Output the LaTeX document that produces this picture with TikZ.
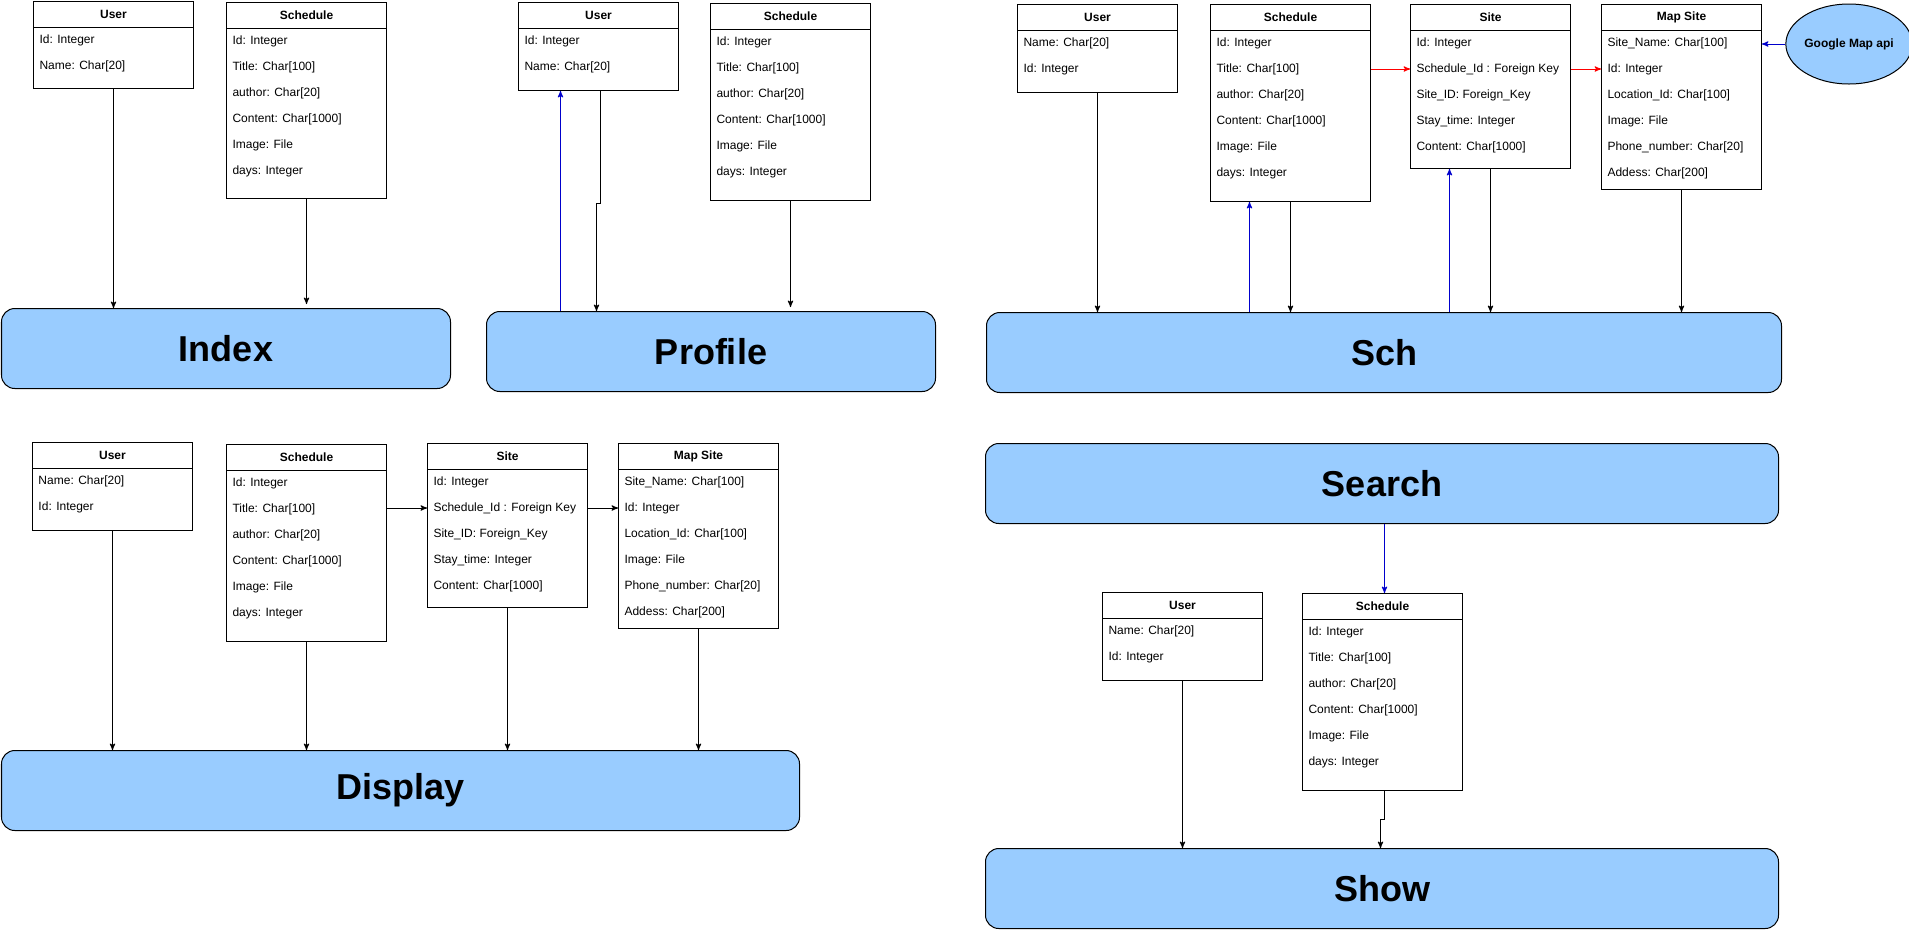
\documentclass[tikz,border=0pt]{standalone}
\usepackage{fontspec}
\setmainfont{Liberation Sans}
\usetikzlibrary{calc}
\usetikzlibrary{arrows}
\usetikzlibrary{shapes.geometric}
\definecolor{pageblue}{HTML}{99CCFF}
\definecolor{linkblue}{HTML}{0000CC}
\tikzset{
 classbox/.style={draw, fill=white, anchor=north west, minimum width=120pt, inner sep=0pt},
 classtitle/.style={font=\fontsize{9}{11}\selectfont\bfseries, inner sep=0pt},
 attr/.style={font=\fontsize{9}{11}\selectfont, anchor=west, inner sep=0pt},
 pagebox/.style={draw, fill=pageblue, rounded corners=10pt, anchor=north west, minimum height=60pt, inner sep=0pt, font=\fontsize{27}{32}\selectfont\bfseries},
 apinode/.style={draw, ellipse, fill=pageblue, minimum width=88.5pt, minimum height=60pt, inner sep=0pt, font=\fontsize{9}{11}\selectfont\bfseries},
 link/.style={black, ->, >=stealth'},
 backlink/.style={linkblue, ->, >=stealth'},
 fklink/.style={red, ->, >=stealth'},
}
\newcommand{\umlclass}[5]{
 \node[classbox, minimum height=#3*0.75pt] (#1) at (#2) {};
 \draw ([yshift=-19.5pt]#1.north west) -- ([yshift=-19.5pt]#1.north east);
 \node[classtitle] (#1-title) at ([yshift=-9.75pt]#1.north) {#4};
 \foreach \a [count=\i] in {#5} {
  \node[attr] (#1-\i) at ([xshift=4.5pt, yshift={-29.25pt-19.5pt*(\i-1)}]#1.north west) {\a};
 }
}
\begin{document}
\begin{tikzpicture}[x=0.75pt, y=-0.75pt, line width=0.75pt]
\useasboundingbox (0,0) rectangle (1909,929);

\umlclass{iuser}{33,1}{87}{User}{Id: Integer, Name: Char[20]}
\umlclass{isched}{226,2}{196}{Schedule}{Id: Integer, Title: Char[100], author: Char[20], Content: Char[1000], Image: File, days: Integer}
\node[pagebox, minimum width=336.75pt] (index) at (1,308) {Index};
\draw[link] (iuser.south) -- (iuser.south |- index.north);
\draw[link] (isched.south) -- ([yshift=3pt]isched.south |- index.north);

\umlclass{puser}{518,2}{88}{User}{Id: Integer, Name: Char[20]}
\umlclass{psched}{710,3}{197}{Schedule}{Id: Integer, Title: Char[100], author: Char[20], Content: Char[1000], Image: File, days: Integer}
\node[pagebox, minimum width=336.75pt] (profile) at (486,311) {Profile};
\draw[link] ([xshift=1.5pt]puser.south) -- ++(0,-84pt) -| ([xshift=-1.5pt]puser.south |- profile.north);
\draw[backlink] ([xshift=-28.5pt]puser.south |- profile.north) -- ([xshift=-28.5pt]puser.south);
\draw[link] (psched.south) -- ([yshift=3pt]psched.south |- profile.north);

\umlclass{suser}{1017,4}{88}{User}{Name: Char[20], Id: Integer}
\umlclass{ssched}{1210,4}{197}{Schedule}{Id: Integer, Title: Char[100], author: Char[20], Content: Char[1000], Image: File, days: Integer}
\umlclass{ssite}{1410,4}{164}{Site}{Id: Integer, Schedule\_Id : Foreign Key, Site\_ID: Foreign\_Key, Stay\_time: Integer, Content: Char[1000]}
\umlclass{smap}{1601,4}{185}{Map Site}{Site\_Name: Char[100], Id: Integer, Location\_Id: Char[100], Image: File, Phone\_number: Char[20], Addess: Char[200]}
\node[apinode] (gapi) at (1849,44) {Google Map api};
\node[pagebox, minimum width=596.25pt] (sch) at (986,312) {Sch};
\foreach \c in {suser,ssched,ssite,smap}
 \draw[link] (\c.south) -- (\c.south |- sch.north);
\foreach \c in {ssched,ssite}
 \draw[backlink] ([xshift=-30.75pt]\c.south |- sch.north) -- ([xshift=-30.75pt]\c.south);
\draw[fklink] (ssched.east |- ssite-2) -- (ssite.west |- ssite-2);
\draw[fklink] (ssite.east |- ssite-2) -- (smap.west |- ssite-2);
\draw[backlink] (gapi.west) -- (gapi.west -| smap.east);

\umlclass{duser}{32,442}{88}{User}{Name: Char[20], Id: Integer}
\umlclass{dsched}{226,444}{197}{Schedule}{Id: Integer, Title: Char[100], author: Char[20], Content: Char[1000], Image: File, days: Integer}
\umlclass{dsite}{427,443}{164}{Site}{Id: Integer, Schedule\_Id : Foreign Key, Site\_ID: Foreign\_Key, Stay\_time: Integer, Content: Char[1000]}
\umlclass{dmap}{618,443}{185}{Map Site}{Site\_Name: Char[100], Id: Integer, Location\_Id: Char[100], Image: File, Phone\_number: Char[20], Addess: Char[200]}
\node[pagebox, minimum width=598.5pt] (display) at (1,750) {Display};
\foreach \c in {duser,dsched,dsite,dmap}
 \draw[link] (\c.south) -- (\c.south |- display.north);
\draw[link] (dsched.east |- dsite-2) -- (dsite.west |- dsite-2);
\draw[link] (dsite.east |- dsite-2) -- (dmap.west |- dsite-2);

\node[pagebox, minimum width=594.75pt] (search) at (985,443) {Search};
\umlclass{wuser}{1102,592}{88}{User}{Name: Char[20], Id: Integer}
\umlclass{wsched}{1302,593}{197}{Schedule}{Id: Integer, Title: Char[100], author: Char[20], Content: Char[1000], Image: File, days: Integer}
\node[pagebox, minimum width=594.75pt] (show) at (985,848) {Show};
\draw[backlink] ([xshift=1.5pt]wsched.north |- search.south) -- ([xshift=1.5pt]wsched.north);
\draw[link] (wuser.south) -- (wuser.south |- show.north);
\draw[link] ([xshift=1.5pt]wsched.south) -- ++(0,-21pt) -| ([xshift=-1.5pt]wsched.south |- show.north);
\end{tikzpicture}
\end{document}
